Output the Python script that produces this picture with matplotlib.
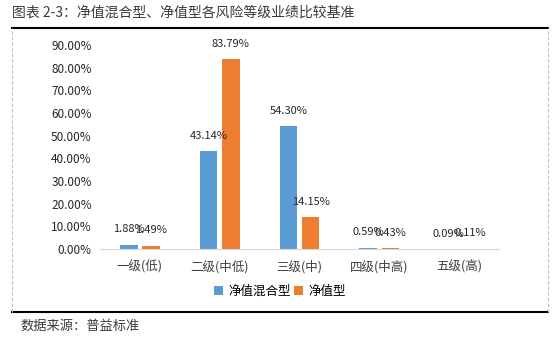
import matplotlib
matplotlib.use("Agg")
import matplotlib.pyplot as plt
from matplotlib.lines import Line2D
import numpy as np

plt.rcParams["font.family"] = ["Noto Sans CJK SC", "DejaVu Sans"]

# 各风险等级的业绩比较基准分布（%）
categories = ["一级(低)", "二级(中低)", "三级(中)", "四级(中高)", "五级(高)"]
hybrid = [1.88, 43.14, 54.30, 0.59, 0.09]   # 净值混合型
netval = [1.49, 83.79, 14.15, 0.43, 0.11]   # 净值型
series_names = ["净值混合型", "净值型"]
yticks = [0, 10, 20, 30, 40, 50, 60, 70, 80, 90]

BLUE = "#5B9BD5"
ORANGE = "#ED7D31"

W, H = 559, 339
fig = plt.figure(figsize=(W / 100, H / 100), dpi=100)

# 绘图区：x 100-499px，y 0% 在 249px，90% 在 45px
ax = fig.add_axes([100 / W, 1 - 249 / H, 399 / W, 204 / H])

x = np.arange(len(categories))
bw = 0.22
off = 0.14
b1 = ax.bar(x - off, hybrid, bw, color=BLUE, label=series_names[0])
b2 = ax.bar(x + off, netval, bw, color=ORANGE, label=series_names[1])

for bars, vals in ((b1, hybrid), (b2, netval)):
    for rect, v in zip(bars, vals):
        ax.annotate(f"{v:.2f}%", (rect.get_x() + rect.get_width() / 2, v),
                    xytext=(0, 11), textcoords="offset points",
                    ha="center", va="center", fontsize=8, color="#262626")

ax.set_xlim(-0.5, len(categories) - 0.5)
ax.set_ylim(0, 90)
ax.set_yticks(yticks)
ax.set_yticklabels([f"{t:.2f}%" for t in yticks], fontsize=8.5, color="#262626")
ax.set_xticks(x)
ax.set_xticklabels(categories, fontsize=9, color="#404040")
ax.tick_params(length=0)
ax.tick_params(axis="x", pad=8)
ax.tick_params(axis="y", pad=6)
for s in ("top", "right", "left"):
    ax.spines[s].set_visible(False)
ax.spines["bottom"].set_color("#D9D9D9")

ax.legend(loc="center", bbox_to_anchor=(280 / W, 1 - 291 / H),
          bbox_transform=fig.transFigure, ncol=2, frameon=False,
          fontsize=9, handlelength=0.7, handleheight=0.7,
          handletextpad=0.4, columnspacing=0.3)

# 标题、来源与外框线
fig.text(12 / W, 1 - 13 / H, "图表 2-3：净值混合型、净值型各风险等级业绩比较基准",
         fontsize=10, color="#3a3a3a", va="center", ha="left")
fig.text(20 / W, 1 - 326 / H, "数据来源：普益标准",
         fontsize=9.5, color="#3a3a3a", va="center", ha="left")

y_top = 1 - 28 / H
y_bot = 1 - 312 / H
x_l, x_r = 12 / W, 548 / W
fig.add_artist(Line2D([x_l, x_r], [y_top, y_top], color="black", lw=1.5))
fig.add_artist(Line2D([x_l, x_r], [y_bot, y_bot], color="black", lw=1.5))
for xv in (x_l, x_r):
    fig.add_artist(Line2D([xv, xv], [y_bot, y_top], color="#BFBFBF",
                          lw=0.8, ls=(0, (3, 2))))

fig.savefig("out.png", dpi=100)
